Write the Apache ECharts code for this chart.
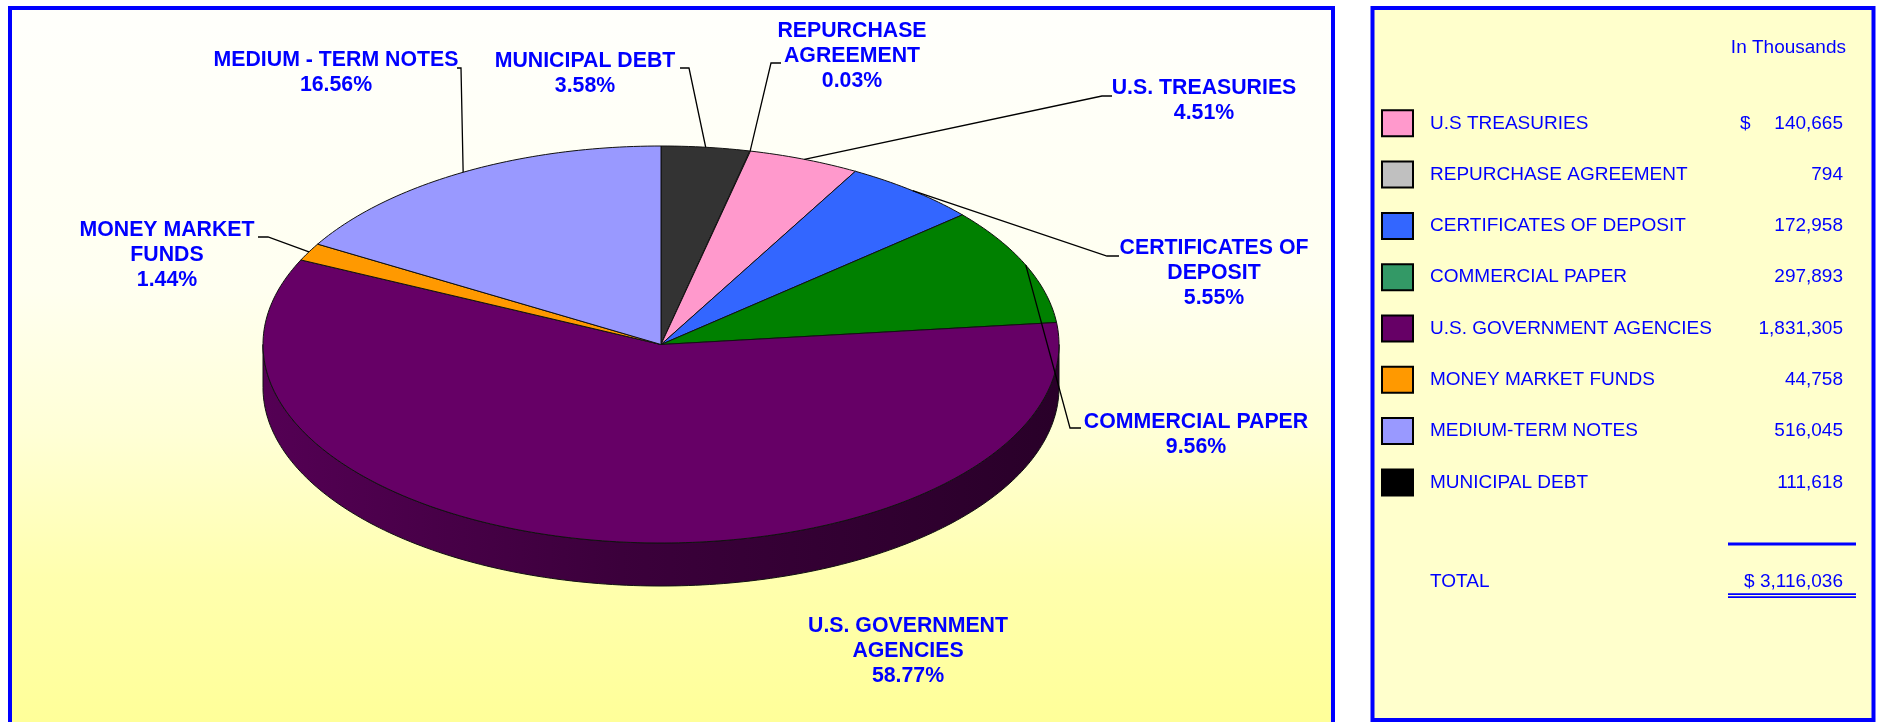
<!DOCTYPE html>
<html>
<head>
<meta charset="utf-8">
<script src="https://cdn.jsdelivr.net/npm/echarts@6/dist/echarts.min.js"></script>
<style>
  html, body { margin: 0; padding: 0; background: #fff; }
  #main { width: 1877px; height: 722px; }
</style>
</head>
<body>
<div id="main"></div>
<script>
// 数据（千元）
var categories = ['U.S TREASURIES', 'REPURCHASE AGREEMENT', 'CERTIFICATES OF DEPOSIT', 'COMMERCIAL PAPER',
  'U.S. GOVERNMENT AGENCIES', 'MONEY MARKET FUNDS', 'MEDIUM-TERM NOTES', 'MUNICIPAL DEBT'];
var amounts = [140665, 794, 172958, 297893, 1831305, 44758, 516045, 111618];
var pieLabels = ['U.S. TREASURIES', 'REPURCHASE\nAGREEMENT', 'CERTIFICATES OF\nDEPOSIT', 'COMMERCIAL PAPER',
  'U.S. GOVERNMENT\nAGENCIES', 'MONEY MARKET\nFUNDS', 'MEDIUM - TERM NOTES', 'MUNICIPAL DEBT'];
var pieOrder = [7, 1, 0, 2, 3, 4, 5, 6]; // clockwise from 12 o'clock
var sliceColors = ['#FF99CC', '#C0C0C0', '#3366FF', '#008000', '#660066', '#FF9900', '#9999FF', '#333333'];
var swatchColors = ['#FF99CC', '#C0C0C0', '#3366FF', '#339966', '#660066', '#FF9900', '#9999FF', '#000000'];

// layout of the pie labels: text block (center x, top y) and the leader tick
var labelLayout = [
  { x: 1204, y: 75.5, tick: [[1112, 96], [1102, 96]] },
  { x: 852, y: 18.5, tick: [[781, 63], [771, 63]] },
  { x: 1214, y: 235.5, tick: [[1119, 256], [1107, 256]] },
  { x: 1196, y: 409.5, tick: [[1081, 428], [1070, 428]] },
  { x: 908, y: 613.5, tick: null },
  { x: 167, y: 217.5, tick: [[258, 237], [268, 237]] },
  { x: 336, y: 47.5, tick: [[457, 68], [461, 68]] },
  { x: 585, y: 48.5, tick: [[680, 68], [689, 68]] }
];
var PIE_DEPTH = 43;
var BLUE = '#0000FF';
var FONT = '"Liberation Sans", Arial, sans-serif';

var myChart = echarts.init(document.getElementById('main'));

var total = amounts.reduce(function (a, b) { return a + b; }, 0);
var pieData = [];
var acc = 0;
pieOrder.forEach(function (k) {
  var start = acc / total * 360;
  acc += amounts[k];
  pieData.push([start, acc / total * 360, k]);
});

function shade(hex, f) { // 颜色变暗
  var n = parseInt(hex.slice(1), 16);
  var r = Math.round((n >> 16 & 255) * f), g = Math.round((n >> 8 & 255) * f), b = Math.round((n & 255) * f);
  return 'rgb(' + r + ',' + g + ',' + b + ')';
}

function ellipsePt(api, deg) {
  var r = deg * Math.PI / 180;
  return api.coord([Math.sin(r), Math.cos(r)]);
}

function arcPts(api, a, b, depth) {
  var pts = [];
  var n = Math.max(2, Math.ceil(b - a));
  for (var i = 0; i <= n; i++) {
    var p = ellipsePt(api, a + (b - a) * i / n);
    pts.push([p[0], p[1] + (depth || 0)]);
  }
  return pts;
}

function renderSide(params, api) {
  var a = Math.max(api.value(0), 90), b = Math.min(api.value(1), 270);
  if (b <= a) return;
  var k = api.value(2);
  var top = arcPts(api, a, b, 0);
  var bot = arcPts(api, a, b, PIE_DEPTH).reverse();
  var c = sliceColors[k];
  return {
    type: 'polygon',
    shape: { points: top.concat(bot) },
    style: {
      fill: new echarts.graphic.LinearGradient(0, 0, 1, 0, [
        { offset: 0, color: shade(c, 0.82) },
        { offset: 0.45, color: shade(c, 0.58) },
        { offset: 1, color: shade(c, 0.4) }
      ]),
      stroke: '#111',
      lineWidth: 1
    }
  };
}

function renderTop(params, api) {
  var a = api.value(0), b = api.value(1), k = api.value(2);
  var c = api.coord([0, 0]);
  return {
    type: 'polygon',
    shape: { points: [c].concat(arcPts(api, a, b, 0)) },
    style: { fill: sliceColors[k], stroke: '#111', lineWidth: 1 }
  };
}

function renderLabel(params, api) {
  var a = api.value(0), b = api.value(1), k = api.value(2);
  var lay = labelLayout[k];
  var pct = (amounts[k] / total * 100).toFixed(2) + '%';
  var children = [{
    type: 'text',
    style: {
      text: pieLabels[k] + '\n' + pct,
      x: lay.x, y: lay.y,
      align: 'center', verticalAlign: 'top',
      fill: BLUE, fontSize: 21.3, fontWeight: 'bold', fontFamily: FONT, lineHeight: 25
    }
  }];
  if (lay.tick) {
    var m = ellipsePt(api, (a + b) / 2);
    children.push({
      type: 'polyline',
      shape: { points: lay.tick.concat([m]) },
      style: { stroke: '#000', lineWidth: 1.3, fill: null }
    });
  }
  return { type: 'group', children: children };
}

// 右侧表格
var graphics = [
  {
    type: 'rect', z: -10,
    shape: { x: 10, y: 8, width: 1323, height: 800 },
    style: {
      fill: new echarts.graphic.LinearGradient(0, 0, 0, 722, [
        { offset: 0, color: '#FFFFFC' },
        { offset: 0.4, color: '#FFFFF0' },
        { offset: 0.6, color: '#FFFFD6' },
        { offset: 0.8, color: '#FFFFAE' },
        { offset: 1, color: '#FFFF99' }
      ], true),
      stroke: BLUE, lineWidth: 4
    }
  },
  {
    type: 'rect', z: -10,
    shape: { x: 1372.5, y: 8, width: 501, height: 712 },
    style: { fill: '#FFFFCC', stroke: BLUE, lineWidth: 4 }
  },
  {
    type: 'text', z: 10,
    style: { text: 'In Thousands', x: 1846, y: 48, align: 'right', verticalAlign: 'middle', fill: BLUE, fontSize: 19, fontFamily: FONT }
  }
];

categories.forEach(function (name, i) {
  var y = 123.3 + i * 51.3;
  graphics.push({
    type: 'rect', z: 10,
    shape: { x: 1382, y: y - 13, width: 31, height: 26 },
    style: { fill: swatchColors[i], stroke: '#000', lineWidth: 2 }
  });
  graphics.push({
    type: 'text', z: 10,
    style: { text: name, x: 1430, y: y, align: 'left', verticalAlign: 'middle', fill: BLUE, fontSize: 19, fontFamily: FONT }
  });
  graphics.push({
    type: 'text', z: 10,
    style: { text: amounts[i].toLocaleString('en-US'), x: 1843, y: y, align: 'right', verticalAlign: 'middle', fill: BLUE, fontSize: 19, fontFamily: FONT }
  });
  if (i == 0) {
    graphics.push({
      type: 'text', z: 10,
      style: { text: '$', x: 1740, y: y, align: 'left', verticalAlign: 'middle', fill: BLUE, fontSize: 19, fontFamily: FONT }
    });
  }
});

graphics.push(
  { type: 'rect', z: 10, shape: { x: 1728, y: 542.5, width: 128, height: 3 }, style: { fill: BLUE } },
  {
    type: 'text', z: 10,
    style: { text: 'TOTAL', x: 1430, y: 582, align: 'left', verticalAlign: 'middle', fill: BLUE, fontSize: 19, fontFamily: FONT }
  },
  {
    type: 'text', z: 10,
    style: { text: '$ ' + total.toLocaleString('en-US'), x: 1843, y: 582, align: 'right', verticalAlign: 'middle', fill: BLUE, fontSize: 19, fontFamily: FONT }
  },
  { type: 'rect', z: 10, shape: { x: 1728, y: 593.3, width: 128, height: 1.8 }, style: { fill: BLUE } },
  { type: 'rect', z: 10, shape: { x: 1728, y: 596.2, width: 128, height: 1.8 }, style: { fill: BLUE } }
);

let option = {
  animation: false,
  grid: { left: 263, top: 146, width: 796, height: 397 },
  xAxis: { type: 'value', min: -1, max: 1, show: false },
  yAxis: { type: 'value', min: -1, max: 1, show: false },
  graphic: graphics,
  series: [
    { type: 'custom', z: 1, clip: false, renderItem: renderSide, data: pieData },
    { type: 'custom', z: 2, clip: false, renderItem: renderTop, data: pieData },
    { type: 'custom', z: 3, clip: false, renderItem: renderLabel, data: pieData }
  ]
};

myChart.setOption(option);
</script>
</body>
</html>
